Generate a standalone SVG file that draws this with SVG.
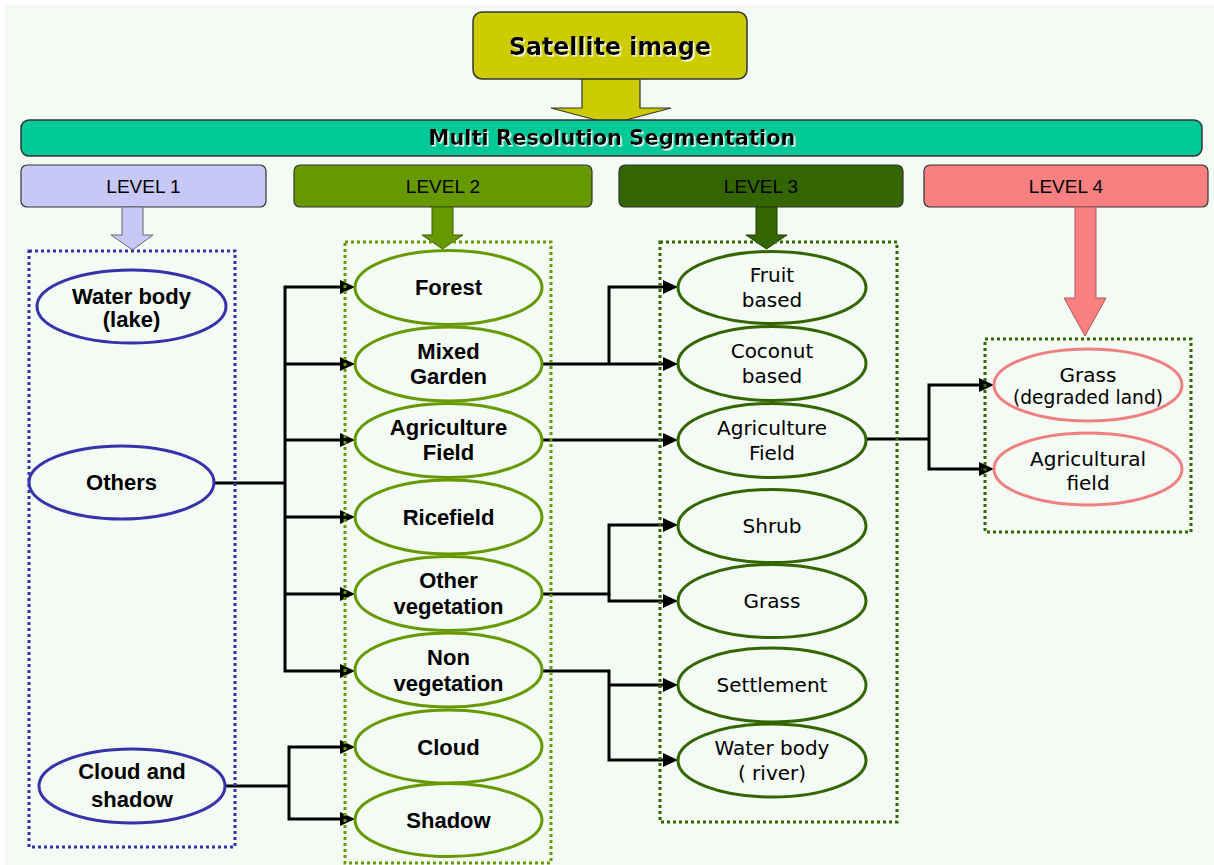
<svg xmlns="http://www.w3.org/2000/svg" width="1214" height="865" viewBox="0 0 1214 865">
  <defs>
    <marker id="arrow" markerUnits="userSpaceOnUse" markerWidth="15" markerHeight="14" refX="3" refY="7" orient="auto">
      <path d="M0,0 L15,7 L0,14 z" fill="#000"/>
    </marker>
    <filter id="glow" x="-5%" y="-20%" width="110%" height="150%">
      <feDropShadow dx="1.6" dy="1.6" stdDeviation="0.4" flood-color="#ffffff" flood-opacity="0.9"/>
    </filter>
  </defs>
  <style>
    .title { font-family: "DejaVu Sans", "Liberation Sans", sans-serif; font-weight: bold; fill: #000; text-anchor: middle; }
    .lvl { font-family: "Liberation Sans", Arial, sans-serif; font-size: 19px; fill: #000; text-anchor: middle; }
    .lvlbox { stroke: #333; stroke-width: 1.2; }
    .dot1 { fill: none; stroke: #3333aa; stroke-width: 3; stroke-dasharray: 3 3; }
    .dot2 { fill: none; stroke: #669900; stroke-width: 3; stroke-dasharray: 3 3; }
    .dot3 { fill: none; stroke: #336600; stroke-width: 3; stroke-dasharray: 3 3; }
    .e1 { fill: #f4faf4; stroke: #3333aa; stroke-width: 3; }
    .e2 { fill: #f4faf4; stroke: #669900; stroke-width: 3; }
    .e3 { fill: #f4faf4; stroke: #336600; stroke-width: 3; }
    .e4 { fill: #f4faf4; stroke: #f08080; stroke-width: 3; }
    .tb { font-family: "Liberation Sans", Arial, sans-serif; font-weight: bold; font-size: 22px; fill: #000; text-anchor: middle; }
    .tg { font-family: "DejaVu Sans", "Liberation Sans", sans-serif; font-size: 20px; fill: #000; text-anchor: middle; }
    .conn path { fill: none; stroke: #000; stroke-width: 3; }
    .conn path.arr { marker-end: url(#arrow); }
  </style>

  <!-- page -->
  <rect x="0" y="0" width="1214" height="865" fill="#ffffff"/>
  <rect x="5" y="5" width="1209" height="860" fill="#f4faf4"/>

  <!-- source image and its arrow into the segmentation bar -->
  <g id="satellite-image">
    <polygon points="582,78 640,78 640,108 671,108 611,124 551,108 582,108" fill="#cccc00" stroke="#333" stroke-width="1.2"/>
    <rect x="473" y="12" width="274" height="67" rx="9" fill="#cccc00" stroke="#333" stroke-width="1.5"/>
    <text class="title" x="610" y="55" font-size="25" textLength="202" lengthAdjust="spacingAndGlyphs" filter="url(#glow)">Satellite image</text>
  </g>

  <g id="segmentation">
    <rect x="21" y="120" width="1181" height="36" rx="8" fill="#00c896" stroke="#333" stroke-width="1.5"/>
    <text class="title" x="612" y="145" font-size="21" textLength="367" lengthAdjust="spacingAndGlyphs" filter="url(#glow)">Multi Resolution Segmentation</text>
  </g>

  <!-- level headers with their down arrows -->
  <g id="level-1">
    <rect class="lvlbox" x="21" y="165" width="245" height="42" rx="6" fill="#c8c8f8"/>
    <text class="lvl" x="143.5" y="193">LEVEL 1</text>
    <polygon points="122,207 143,207 143,235 153,235 132.5,250 111,235 122,235" fill="#c8c8f8" stroke="#666" stroke-width="1"/>
  </g>
  <g id="level-2">
    <rect class="lvlbox" x="294" y="165" width="298" height="42" rx="6" fill="#669900"/>
    <text class="lvl" x="443" y="193">LEVEL 2</text>
    <polygon points="432,207 453,207 453,235 463,235 442.5,249 422,235 432,235" fill="#669900" stroke="#3d5c00" stroke-width="1"/>
  </g>
  <g id="level-3">
    <rect class="lvlbox" x="619" y="165" width="284" height="42" rx="6" fill="#336600"/>
    <text class="lvl" x="761" y="193">LEVEL 3</text>
    <polygon points="756,207 777,207 777,235 787,235 766.5,249 746,235 756,235" fill="#336600" stroke="#1f3d00" stroke-width="1"/>
  </g>
  <g id="level-4">
    <rect class="lvlbox" x="924" y="165" width="284" height="42" rx="6" fill="#f88080"/>
    <text class="lvl" x="1066" y="193">LEVEL 4</text>
    <polygon points="1075,207 1096,207 1096,298 1106,298 1085,336 1064,298 1075,298" fill="#f88080" stroke="#b05a5a" stroke-width="1"/>
  </g>

  <!-- connectors -->
  <g id="connectors" class="conn">
    <path d="M214,483 H285"/>
    <path class="arr" d="M285,483 V287 H343"/>
    <path class="arr" d="M285,364 H343"/>
    <path class="arr" d="M285,440 H343"/>
    <path class="arr" d="M285,517 H343"/>
    <path class="arr" d="M285,594 H343"/>
    <path class="arr" d="M285,483 V671 H343"/>

    <path d="M225,786 H289"/>
    <path class="arr" d="M289,786 V747 H343"/>
    <path class="arr" d="M289,786 V819 H343"/>

    <path d="M542,364 H609"/>
    <path class="arr" d="M609,364 V287 H666"/>
    <path class="arr" d="M609,364 H666"/>
    <path class="arr" d="M542,440 H666"/>
    <path class="arr" d="M542,594 H609 V525 H666"/>
    <path class="arr" d="M609,594 V601 H666"/>
    <path class="arr" d="M542,671 H609 V760 H666"/>
    <path class="arr" d="M609,685 H666"/>

    <path d="M866,439 H929"/>
    <path class="arr" d="M929,439 V385 H982"/>
    <path class="arr" d="M929,439 V469 H982"/>
  </g>

  <!-- dotted level frames -->
  <rect id="frame-1" class="dot1" x="29" y="251" width="206" height="596"/>
  <rect id="frame-2" class="dot2" x="345" y="242" width="206" height="621"/>
  <rect id="frame-3" class="dot3" x="660" y="242" width="237" height="580"/>
  <rect id="frame-4" class="dot3" x="985" y="339" width="206" height="193"/>

  <!-- level 1 classes -->
  <g id="water-body-lake">
    <ellipse class="e1" cx="131.5" cy="306.5" rx="94.5" ry="36.5"/>
    <text class="tb" x="131.5" y="304">Water body</text>
    <text class="tb" x="131.5" y="327">(lake)</text>
  </g>
  <g id="others">
    <ellipse class="e1" cx="121.5" cy="482.5" rx="92.5" ry="36.5"/>
    <text class="tb" x="121.5" y="490">Others</text>
  </g>
  <g id="cloud-and-shadow">
    <ellipse class="e1" cx="132" cy="786" rx="93" ry="37"/>
    <text class="tb" x="132" y="779">Cloud and</text>
    <text class="tb" x="132" y="807">shadow</text>
  </g>

  <!-- level 2 classes -->
  <g id="forest">
    <ellipse class="e2" cx="448.5" cy="287.5" rx="93.5" ry="37"/>
    <text class="tb" x="448.5" y="295">Forest</text>
  </g>
  <g id="mixed-garden">
    <ellipse class="e2" cx="448.5" cy="364" rx="93.5" ry="37"/>
    <text class="tb" x="448.5" y="359">Mixed</text>
    <text class="tb" x="448.5" y="384">Garden</text>
  </g>
  <g id="agriculture-field-2">
    <ellipse class="e2" cx="448.5" cy="440.5" rx="93.5" ry="37"/>
    <text class="tb" x="448.5" y="435">Agriculture</text>
    <text class="tb" x="448.5" y="460">Field</text>
  </g>
  <g id="ricefield">
    <ellipse class="e2" cx="448.5" cy="517" rx="93.5" ry="37"/>
    <text class="tb" x="448.5" y="525">Ricefield</text>
  </g>
  <g id="other-vegetation">
    <ellipse class="e2" cx="448.5" cy="593.5" rx="93.5" ry="37"/>
    <text class="tb" x="448.5" y="588">Other</text>
    <text class="tb" x="448.5" y="614">vegetation</text>
  </g>
  <g id="non-vegetation">
    <ellipse class="e2" cx="448.5" cy="670" rx="93.5" ry="37"/>
    <text class="tb" x="448.5" y="665">Non</text>
    <text class="tb" x="448.5" y="691">vegetation</text>
  </g>
  <g id="cloud">
    <ellipse class="e2" cx="448.5" cy="746.5" rx="93.5" ry="36.5"/>
    <text class="tb" x="448.5" y="755">Cloud</text>
  </g>
  <g id="shadow">
    <ellipse class="e2" cx="448.5" cy="820" rx="93.5" ry="36.5"/>
    <text class="tb" x="448.5" y="828">Shadow</text>
  </g>

  <!-- level 3 classes -->
  <g id="fruit-based">
    <ellipse class="e3" cx="772" cy="287.5" rx="94" ry="36"/>
    <text class="tg" x="772" y="282">Fruit</text>
    <text class="tg" x="772" y="307">based</text>
  </g>
  <g id="coconut-based">
    <ellipse class="e3" cx="772" cy="363.5" rx="94" ry="37"/>
    <text class="tg" x="772" y="358">Coconut</text>
    <text class="tg" x="772" y="383">based</text>
  </g>
  <g id="agriculture-field-3">
    <ellipse class="e3" cx="772" cy="440.5" rx="94" ry="37"/>
    <text class="tg" x="772" y="435">Agriculture</text>
    <text class="tg" x="772" y="460">Field</text>
  </g>
  <g id="shrub">
    <ellipse class="e3" cx="772" cy="526" rx="94" ry="36.5"/>
    <text class="tg" x="772" y="533">Shrub</text>
  </g>
  <g id="grass-3">
    <ellipse class="e3" cx="772" cy="601" rx="94" ry="36.5"/>
    <text class="tg" x="772" y="608">Grass</text>
  </g>
  <g id="settlement">
    <ellipse class="e3" cx="772" cy="685" rx="94" ry="37"/>
    <text class="tg" x="772" y="692">Settlement</text>
  </g>
  <g id="water-body-river">
    <ellipse class="e3" cx="772" cy="760.5" rx="94" ry="36.5"/>
    <text class="tg" x="772" y="755">Water body</text>
    <text class="tg" x="772" y="780">( river)</text>
  </g>

  <!-- level 4 classes -->
  <g id="grass-degraded">
    <ellipse class="e4" cx="1088" cy="385" rx="94" ry="36"/>
    <text class="tg" x="1088" y="382">Grass</text>
    <text class="tg" x="1088" y="404" font-size="17.5" textLength="150" lengthAdjust="spacingAndGlyphs">(degraded land)</text>
  </g>
  <g id="agricultural-field">
    <ellipse class="e4" cx="1088" cy="469" rx="94" ry="36"/>
    <text class="tg" x="1088" y="466">Agricultural</text>
    <text class="tg" x="1088" y="490">field</text>
  </g>
</svg>
